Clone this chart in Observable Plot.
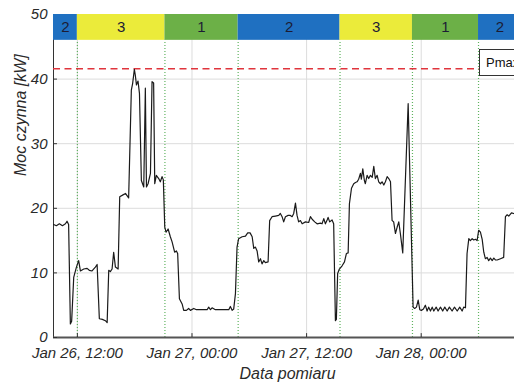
<!DOCTYPE html>
<html>
<head>
<meta charset="utf-8">
<script src="https://cdn.jsdelivr.net/npm/d3@7"></script>
<script src="https://cdn.jsdelivr.net/npm/@observablehq/plot@0.6"></script>
<style>
  html, body { margin: 0; padding: 0; background: #fff; overflow: hidden; }
  #wrap { position: relative; width: 514px; height: 389px; overflow: hidden; font-family: "Liberation Sans", Arial, sans-serif; }
  #chart svg { max-width: none !important; }
  #legend { position: absolute; left: 479px; top: 49px; width: 70px; height: 27px; border: 1px solid #333; background: #fff;
            font: 13px "Liberation Sans", Arial, sans-serif; line-height: 26px; padding-left: 6px; box-sizing: border-box; color: #111; }
</style>
</head>
<body>
<div id="wrap"><div id="chart"></div><div id="legend">Pmax</div></div>
<script>
// ---- data (day HH:MM in January) ----
const times = [
"26 09:31","26 09:48","26 10:07","26 10:26","26 10:45","26 10:55","26 11:05","26 11:16","26 11:24","26 11:37",
"26 11:54","26 12:08","26 12:19","26 12:40","26 13:01","26 13:15","26 13:32","26 13:53","26 14:04","26 14:18",
"26 14:37","26 14:56","26 15:07","26 15:17","26 15:27","26 15:38","26 15:48","26 15:59","26 16:16","26 16:26",
"26 16:41","26 17:02","26 17:22","26 17:39","26 17:47","26 17:58","26 18:04","26 18:11","26 18:21","26 18:30",
"26 18:42","26 18:57","26 19:07","26 19:14","26 19:24","26 19:39","26 19:49","26 19:59","26 20:06","26 20:16",
"26 20:31","26 20:41","26 20:52","26 21:00","26 21:09","26 21:17","26 21:30","26 21:44","26 21:55","26 22:11",
"26 22:22","26 22:30","26 22:41","26 22:58","26 23:08","26 23:25","26 23:39","26 23:50","27 00:11","27 00:28",
"27 00:53","27 01:35","27 01:45","27 01:56","27 02:06","27 02:27","27 03:00","27 03:51","27 04:01","27 04:12",
"27 04:22","27 04:33","27 04:43","27 04:53","27 05:15","27 05:36","27 05:50","27 06:05","27 06:18","27 06:28",
"27 06:38","27 06:49","27 06:59","27 07:10","27 07:20","27 07:31","27 07:41","27 07:58","27 08:08","27 08:23",
"27 08:44","27 09:05","27 09:15","27 09:26","27 09:36","27 09:47","27 10:04","27 10:18","27 10:29","27 10:39",
"27 10:50","27 11:00","27 11:10","27 11:21","27 11:32","27 11:53","27 12:13","27 12:24","27 12:35","27 12:51",
"27 13:06","27 13:27","27 13:37","27 13:48","27 13:58","27 14:09","27 14:15","27 14:25","27 14:40","27 14:50",
"27 15:01","27 15:07","27 15:15","27 15:26","27 15:43","27 15:58","27 16:10","27 16:21","27 16:29","27 16:42",
"27 16:56","27 17:07","27 17:17","27 17:27","27 17:38","27 17:44","27 17:53","27 18:03","27 18:09","27 18:20",
"27 18:30","27 18:41","27 18:52","27 19:02","27 19:12","27 19:23","27 19:33","27 19:44","27 19:54","27 20:05",
"27 20:15","27 20:26","27 20:36","27 20:47","27 20:57","27 21:07","27 21:18","27 21:29","27 21:39","27 21:49",
"27 22:04","27 22:38","27 23:09","27 23:19","27 23:30","27 23:41","27 23:51","28 00:01","28 00:14","28 00:26",
"28 00:37","28 00:47","28 00:58","28 01:09","28 01:19","28 01:34","28 01:46","28 02:01","28 02:15","28 02:28",
"28 02:43","28 02:57","28 03:14","28 03:29","28 03:46","28 04:02","28 04:17","28 04:27","28 04:38","28 04:48",
"28 04:59","28 05:09","28 05:20","28 05:30","28 05:41","28 05:51","28 06:01","28 06:12","28 06:23","28 06:33",
"28 06:43","28 06:54","28 07:04","28 07:15","28 07:26","28 07:36","28 07:46","28 07:57","28 08:18","28 08:38",
"28 08:49","28 09:00","28 09:10","28 09:27","28 09:41","28 09:55","28 10:10","28 10:25"
];
const power = [
17.5,17.3,17.6,17.3,17.6,18.0,17.5,2.1,2.5,9.3,
10.9,11.9,10.3,10.6,10.7,10.4,10.3,10.9,11.3,2.9,
2.8,2.6,2.3,10.4,10.2,10.6,13.2,10.9,10.6,21.8,
22.0,22.3,21.6,38.3,39.3,41.5,40.6,39.1,39.7,37.8,
24.3,23.3,38.6,23.3,23.8,25.4,39.6,39.4,23.8,25.1,
24.6,24.1,24.9,24.4,17.1,16.3,16.8,15.6,14.8,13.2,
13.4,13.0,6.0,5.2,4.2,4.2,4.5,4.2,4.5,4.3,
4.3,4.3,4.7,4.3,4.6,4.3,4.3,4.3,4.8,4.2,
4.4,6.8,14.0,15.3,15.6,15.7,16.2,16.2,15.6,13.8,
14.0,13.4,11.7,12.2,11.4,11.9,11.6,11.7,18.1,18.7,
18.8,18.9,19.2,18.7,17.9,18.7,18.9,18.9,18.7,19.2,
20.8,18.9,17.9,18.1,17.6,17.9,17.8,18.7,18.3,17.9,
17.6,17.7,17.6,18.4,17.6,18.2,18.6,17.9,18.2,17.6,
2.6,2.8,9.9,10.6,11.1,11.7,13.0,13.1,20.7,23.1,
23.8,24.0,24.1,24.5,25.4,24.5,26.1,24.3,23.8,25.1,
24.6,25.1,24.8,26.5,24.6,25.1,24.1,23.8,24.1,23.6,
24.1,24.9,24.6,24.1,18.1,17.9,16.1,17.1,17.9,16.1,
13.1,36.2,4.7,4.5,4.7,5.8,4.3,4.2,4.4,5.0,
4.1,4.7,4.1,4.7,4.1,4.7,4.1,4.7,4.1,4.7,
4.1,4.7,4.1,4.7,4.1,4.7,4.1,4.7,4.6,13.0,
15.3,15.0,15.3,15.1,15.2,15.0,16.6,16.3,15.2,13.2,
12.2,12.4,11.9,12.3,11.9,12.3,12.0,12.0,12.2,12.4,
18.7,19.0,18.8,19.3,19.2,19.0,19.3,19.1
];
const zones      = ["2","3","1","2","3","1","2"];
const zoneStarts = ["26 09:30","26 12:00","26 21:10","27 04:50","27 15:30","27 23:05","28 06:00"];
const axisEnd    = "28 10:30";
const xTickTimes = ["26 12:00","27 00:00","27 12:00","28 00:00"];
const yTicks     = [0,10,20,30,40,50];
const pmax       = 41.6;
const zoneBand   = [46, 50];

// ---- build ----
const parse = d3.timeParse("%Y-%m-%d %H:%M");
const T = s => parse("2021-01-" + s);
const data = times.map((t, i) => ({t: T(t), p: power[i]}));
const start = T(zoneStarts[0]);
const end = T(axisEnd);
const bands = zones.map((z, i) => ({
  zone: z,
  x1: T(zoneStarts[i]),
  x2: i < zones.length - 1 ? T(zoneStarts[i + 1]) : end
}));
const boundaries = zoneStarts.slice(1).map(T);
const xTicks = xTickTimes.map(T);
const fmt = d3.timeFormat("%b %d, %H:%M");
const font = "Liberation Sans, Arial, sans-serif";

const chart = Plot.plot({
  width: 530, height: 389,
  marginLeft: 53, marginRight: 9, marginTop: 14, marginBottom: 52,
  style: {fontFamily: font, background: "#fff", overflow: "visible", maxWidth: "none"},
  x: {type: "time", domain: [start, end]},
  y: {domain: [0, 50]},
  color: {domain: ["1", "2", "3"], range: ["#6cb047", "#1f70c1", "#ebeb3a"]},
  marks: [
    Plot.ruleX(xTicks, {stroke: "#dcdcdc", strokeWidth: 1}),
    Plot.ruleY(yTicks.slice(1), {stroke: "#dcdcdc", strokeWidth: 1}),
    Plot.ruleX(boundaries, {y1: 0, y2: zoneBand[0], stroke: "#5fb35f", strokeWidth: 1.2, strokeDasharray: "1,2"}),
    Plot.ruleX([start], {stroke: "#333", strokeWidth: 1}),
    Plot.ruleY([pmax], {stroke: "#e0353d", strokeWidth: 1.3, strokeDasharray: "7,4.5"}),
    Plot.line(data, {x: "t", y: "p", stroke: "#1a1a1a", strokeWidth: 1.2}),
    Plot.rect(bands, {x1: "x1", x2: "x2", y1: zoneBand[0], y2: zoneBand[1], fill: "zone"}),
    Plot.text(bands, {x: d => new Date((+d.x1 + +d.x2) / 2), y: (zoneBand[0] + zoneBand[1]) / 2, text: "zone",
      fontSize: 15, fill: "#1c1c34", fontFamily: font}),
    Plot.ruleY([0], {stroke: "#555", strokeWidth: 2}),
    Plot.ruleX(xTicks, {y1: 0, y2: 0.6, stroke: "#333"}),
    Plot.ruleY(yTicks.slice(0, 5), {x1: start, x2: d3.timeMinute.offset(start, 25), stroke: "#333"}),
    Plot.axisX(xTicks, {tickFormat: fmt, tickSize: 0, tickPadding: 10, fontSize: 15, fontStyle: "italic",
      fill: "#2a2a2a", label: null, fontFamily: font}),
    Plot.axisY(yTicks, {tickSize: 0, tickPadding: 6, fontSize: 15, fontStyle: "italic",
      fill: "#2a2a2a", label: null, fontFamily: font}),
    Plot.text(["Moc czynna [kW]"], {text: d => d, frameAnchor: "left", rotate: -90, dx: -33,
      fontSize: 16, fontStyle: "italic", fill: "#2a2a2a", fontFamily: font}),
    Plot.text(["Data pomiaru"], {text: d => d, frameAnchor: "bottom", dy: 41,
      fontSize: 16, fontStyle: "italic", fill: "#2a2a2a", fontFamily: font})
  ]
});
document.getElementById("chart").appendChild(chart);
</script>
</body>
</html>
